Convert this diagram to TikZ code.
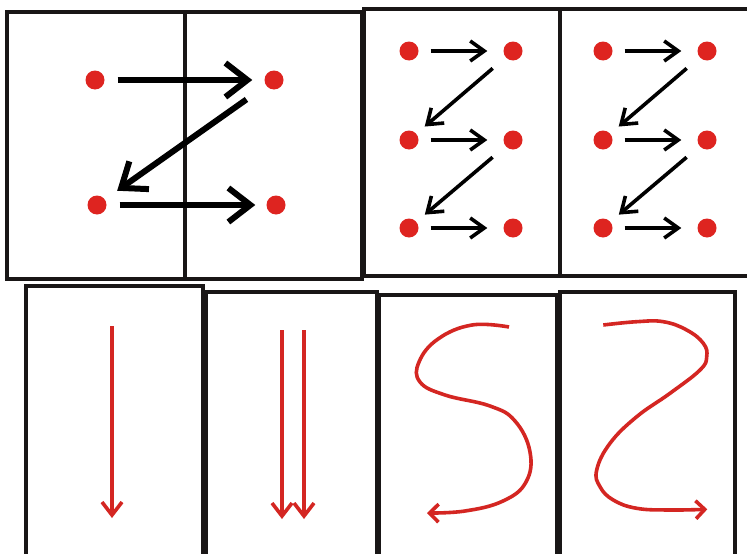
\documentclass[tikz,border=0pt]{standalone}
\usetikzlibrary{arrows.meta}
\definecolor{dotred}{RGB}{222,36,32}
\definecolor{linered}{RGB}{212,38,34}
\definecolor{framecol}{RGB}{25,22,22}
\begin{document}
\begin{tikzpicture}[x=1pt,y=-1pt,
  frame/.style={draw=framecol, line width=3.2pt},
  dot/.style={circle, fill=dotred, inner sep=0pt, minimum size=19pt},
  bigarrow/.style={draw=black, line width=6pt, -{Straight Barb[length=22pt,width=34pt,sharp]}},
  smallarrow/.style={draw=black, line width=3.6pt, -{Straight Barb[length=14pt,width=20pt,sharp]}},
  redarrow/.style={draw=linered, line width=3.6pt, -{Straight Barb[length=13pt,width=20pt,sharp]}},
  curvearrow/.style={draw=linered, line width=3.6pt, -{Straight Barb[length=9pt,width=18pt,sharp]}},
]
\fill[white] (0,0) rectangle (747,554);
\useasboundingbox (0,0) rectangle (747,554);

% frames
\draw[frame] (7,12) rectangle (362,279);
\draw[framecol, line width=3.2pt] (185,12) -- (185,279);
\draw[frame] (364,9) rectangle (755,276);
\draw[framecol, line width=3.2pt] (560,9) -- (560,276);
\draw[frame] (26,286) rectangle (203,565);
\draw[frame] (206,292) rectangle (377,565);
\draw[frame] (379,295) rectangle (557,565);
\draw[frame] (560,292) rectangle (735,565);

% top-left: big Z
\node[dot] (a1) at (95,80) {};
\node[dot] (a2) at (274,80) {};
\node[dot] (a3) at (97,205) {};
\node[dot] (a4) at (276,205) {};
\draw[bigarrow, shorten <=13pt, shorten >=12pt] (a1) -- (a2);
\draw[bigarrow, shorten <=24pt, shorten >=15pt] (a2) -- (a3);
\draw[bigarrow, shorten <=13pt, shorten >=11pt] (a3) -- (a4);

% top-right: two panels of small Z
\foreach \px/\nm in {409/p,603/q}{
  \node[dot] (\nm1) at (\px,51) {};
  \node[dot] (\nm2) at (\px+104,51) {};
  \node[dot] (\nm3) at (\px,140) {};
  \node[dot] (\nm4) at (\px+104,140) {};
  \node[dot] (\nm5) at (\px,228) {};
  \node[dot] (\nm6) at (\px+104,228) {};
  \draw[smallarrow, shorten <=12pt, shorten >=16pt] (\nm1) -- (\nm2);
  \draw[smallarrow, shorten <=17pt, shorten >=11pt] (\nm2) -- (\nm3);
  \draw[smallarrow, shorten <=12pt, shorten >=16pt] (\nm3) -- (\nm4);
  \draw[smallarrow, shorten <=17pt, shorten >=11pt] (\nm4) -- (\nm5);
  \draw[smallarrow, shorten <=12pt, shorten >=16pt] (\nm5) -- (\nm6);
}

% bottom: straight red arrows
\coordinate (s1) at (112,326);
\coordinate (e1) at (112,518);
\draw[redarrow] (s1) -- (e1);
\coordinate (s2) at (282,330);
\coordinate (e2) at (282,519);
\draw[redarrow] (s2) -- (e2);
\coordinate (s3) at (304,330);
\coordinate (e3) at (304,519);
\draw[redarrow] (s3) -- (e3);

% bottom: S curve
\draw[curvearrow] plot[smooth, tension=0.7] coordinates {
  (509,327) (472,325) (438,339) (419,362) (420,382) (445,395)
  (490,406) (515,421) (530,452) (526,482) (503,501) (465,511) (427,513)};

% bottom: mirrored S curve
\draw[curvearrow] plot[smooth, tension=0.7] coordinates {
  (603.3,325) (636.7,321.7) (663.3,321.7) (686.7,330) (703.3,343.3)
  (706.7,356.7) (700,370) (670,393.3) (636.7,416.7) (610,443.3)
  (596.7,470) (600,486.7) (613.3,500) (636.7,508.3) (670,510) (707.3,509.3)};
\end{tikzpicture}
\end{document}
